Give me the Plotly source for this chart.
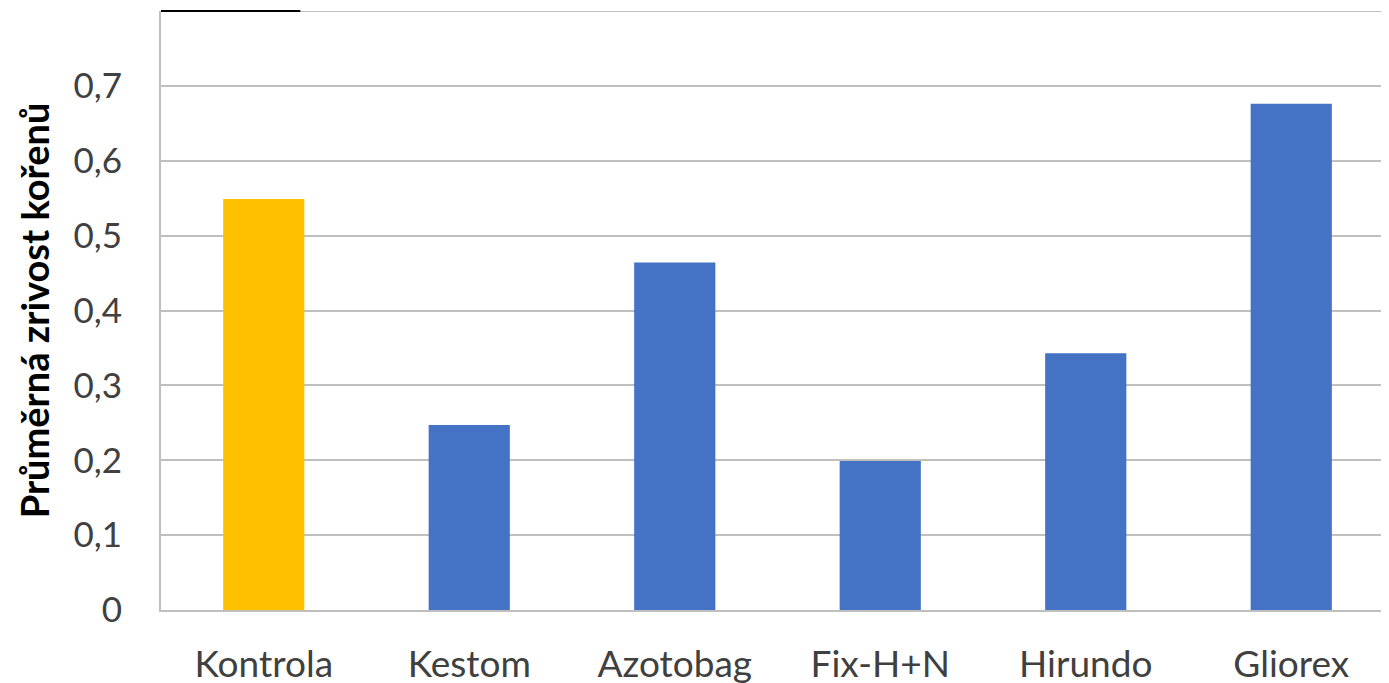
import plotly.graph_objects as go

categories = ["Kontrola", "Kestom", "Azotobag", "Fix-H+N", "Hirundo", "Gliorex"]
values = [0.549, 0.247, 0.464, 0.199, 0.343, 0.676]
colors = ["#FFC000", "#4472C4", "#4472C4", "#4472C4", "#4472C4", "#4472C4"]
tick_vals = [0, 0.1, 0.2, 0.3, 0.4, 0.5, 0.6, 0.7, 0.8]
tick_text = ["0", "0,1", "0,2", "0,3", "0,4", "0,5", "0,6", "0,7", ""]

fig = go.Figure(go.Bar(x=categories, y=values, marker=dict(color=colors, line=dict(width=0)), width=0.395))

fig.update_layout(
    width=1389, height=683,
    margin=dict(l=153, r=3, t=3, b=81),
    plot_bgcolor="white", paper_bgcolor="white",
    font=dict(family="Lato", size=34, color="#404040"),
    showlegend=False,
    xaxis=dict(showline=True, linecolor="#BFBFBF", linewidth=2, ticks="", ticklabelstandoff=21,
               tickfont=dict(size=37, color="#404040")),
    yaxis=dict(range=[0, 0.8], tickvals=tick_vals, ticktext=tick_text,
               showgrid=True, gridcolor="#BFBFBF", gridwidth=2,
               showline=True, linecolor="#BFBFBF", linewidth=2, zeroline=False,
               ticks="", ticklabelstandoff=30,
               tickfont=dict(size=35, color="#404040"),
               title=dict(text="<b>Průměrná zrivost kořenů</b>", font=dict(size=38, color="#000000"), standoff=12)),
    shapes=[
        dict(type="line", xref="paper", yref="y", x0=0, x1=1, y0=0.8, y1=0.8,
             line=dict(color="#BFBFBF", width=2)),
        dict(type="line", xref="paper", yref="paper", x0=0, x1=0.113, y0=1.0, y1=1.0,
             line=dict(color="black", width=2)),
    ],
)

fig.write_html("out.html")
